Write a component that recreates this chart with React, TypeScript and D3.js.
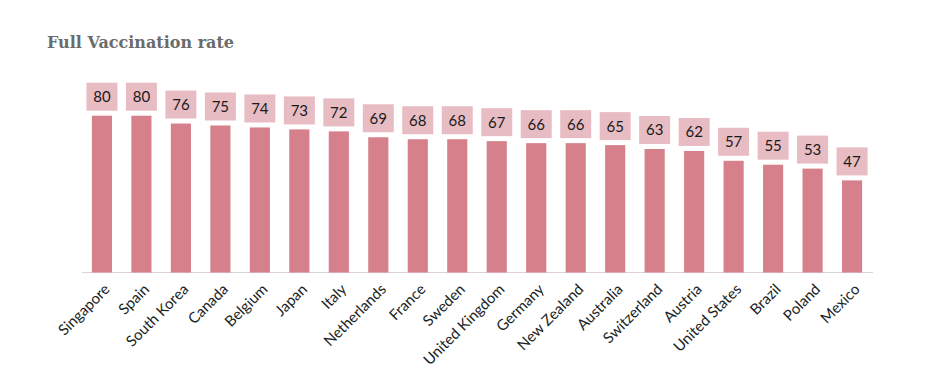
import React from "react";
import * as d3 from "d3";

const countries = [
  "Singapore", "Spain", "South Korea", "Canada", "Belgium", "Japan", "Italy",
  "Netherlands", "France", "Sweden", "United Kingdom", "Germany", "New Zealand",
  "Australia", "Switzerland", "Austria", "United States", "Brazil", "Poland", "Mexico",
];
const rates = [80, 80, 76, 75, 74, 73, 72, 69, 68, 68, 67, 66, 66, 65, 63, 62, 57, 55, 53, 47];
const title = "Full Vaccination rate";

const W = 942;
const H = 374;
const baseY = 272.5;

export default function App() {
  const x = d3.scaleBand<string>()
    .domain(countries)
    .range([82, 872])
    .paddingInner(0.49)
    .paddingOuter(0.25);
  const y = d3.scaleLinear().domain([0, 100]).range([baseY, baseY - 196]);
  const bw = x.bandwidth();
  const boxW = 31;
  const boxH = 28;

  return (
    <svg width={W} height={H} style={{ position: "absolute", left: 0, top: 0, background: "#fff" }}>
      <text x={47} y={48} fontFamily="'DejaVu Serif', serif" fontWeight="bold" fontSize={16} fill="#6b6b6b">
        {title}
      </text>
      <line x1={82} x2={873} y1={baseY} y2={baseY} stroke="#dcd2d4" strokeWidth={1} />
      {countries.map((c, i) => {
        const cx = (x(c) as number) + bw / 2;
        const top = y(rates[i]);
        return (
          <g key={c}>
            <rect x={x(c)} y={top} width={bw} height={baseY - top} fill="#d5808a" />
            <rect x={cx - boxW / 2} y={top - 5 - boxH} width={boxW} height={boxH} fill="#e8bcc3" />
            <text
              x={cx}
              y={top - 5 - boxH / 2}
              dy="0.36em"
              textAnchor="middle"
              fontFamily="Lato, 'Noto Sans', sans-serif"
              fontSize={15}
              fill="#1a1a1a"
            >
              {rates[i]}
            </text>
            <text
              transform={`translate(${cx + 5},${baseY + 14}) rotate(-45)`}
              textAnchor="end"
              dy="0.35em"
              fontFamily="Lato, 'Noto Sans', sans-serif"
              fontSize={15}
              fill="#1a2424"
            >
              {c}
            </text>
          </g>
        );
      })}
    </svg>
  );
}
